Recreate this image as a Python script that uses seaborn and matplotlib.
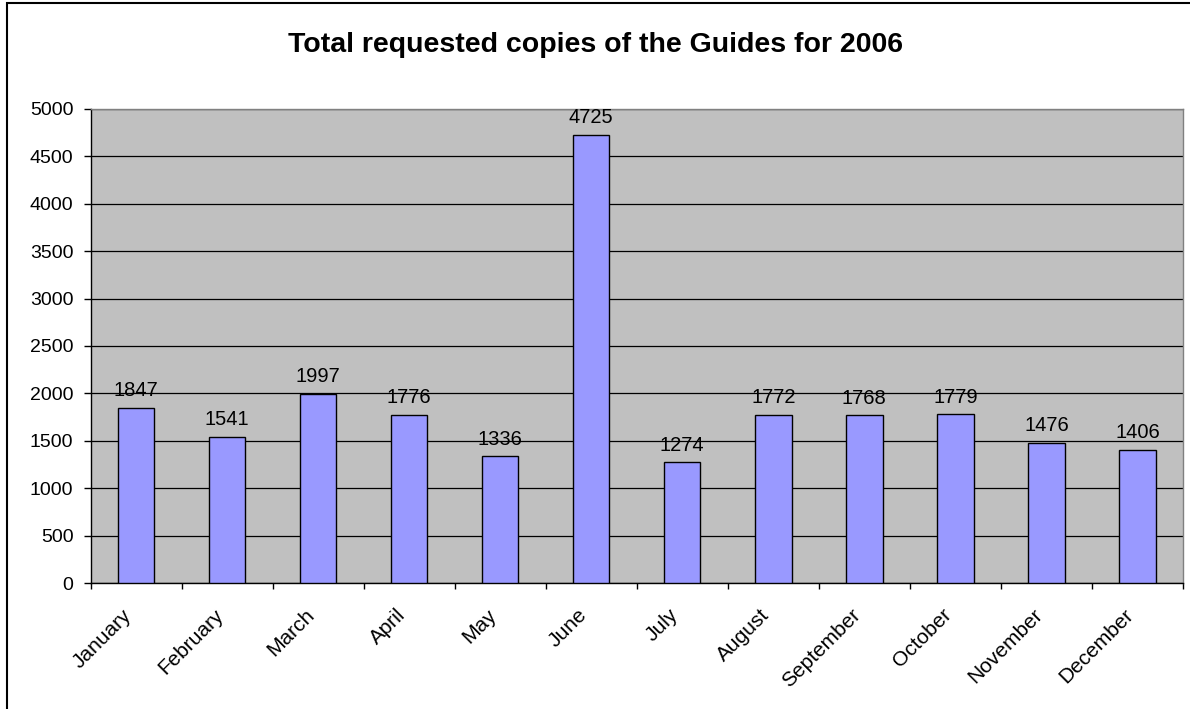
import matplotlib
matplotlib.use("Agg")
import matplotlib.pyplot as plt
import matplotlib.transforms as mtransforms
import seaborn as sns
import pandas as pd

# datos
meses = ["January", "February", "March", "April", "May", "June",
         "July", "August", "September", "October", "November", "December"]
copias = [1847, 1541, 1997, 1776, 1336, 4725, 1274, 1772, 1768, 1779, 1476, 1406]
titulo = "Total requested copies of the Guides for 2006"

df = pd.DataFrame({"mes": meses, "copias": copias})

sns.set_style("white")
plt.rcParams["font.family"] = ["Liberation Sans", "DejaVu Sans"]
plt.rcParams["text.color"] = "black"
plt.rcParams["xtick.color"] = "black"
plt.rcParams["ytick.color"] = "black"

fig = plt.figure(figsize=(11.9, 7.09), dpi=100)
ax = fig.add_axes([0.0761, 0.1777, 0.918, 0.6686])
ax.set_facecolor("#C0C0C0")

sns.barplot(data=df, x="mes", y="copias", color="#9999FF", edgecolor="black",
            linewidth=1.0, width=0.40, saturation=1, ax=ax, zorder=3)

ax.set_ylim(0, 5000)
ax.set_yticks(range(0, 5001, 500))
ax.set_xlim(-0.5, 11.5)
ax.yaxis.grid(True, color="black", linewidth=0.9, zorder=0)
ax.set_axisbelow(True)
ax.set_xlabel("")
ax.set_ylabel("")

# etiquetas de valor sobre cada barra
for i, v in enumerate(copias):
    ax.annotate(str(v), xy=(i, v), xytext=(0, 8.4), textcoords="offset points",
                ha="center", va="baseline", fontsize=14.5, color="black")

# marcas del eje x entre categorias
ax.set_xticks([i - 0.5 for i in range(13)], minor=True)
ax.tick_params(axis="x", which="minor", length=4.5, width=1, bottom=True, direction="out")
ax.tick_params(axis="x", which="major", length=0, pad=21, labelsize=15)
ax.tick_params(axis="y", labelsize=14, length=4.8, width=1, direction="out", left=True, pad=7.5)
desplaza = mtransforms.ScaledTranslation(-0.07, 0, fig.dpi_scale_trans)
for lab in ax.get_xticklabels():
    lab.set_rotation(45)
    lab.set_ha("right")
    lab.set_va("center")
    lab.set_rotation_mode("anchor")
    lab.set_transform(lab.get_transform() + desplaza)

for s in ax.spines.values():
    s.set_color("#808080")
    s.set_linewidth(1.0)
ax.spines["left"].set_color("black")
ax.spines["bottom"].set_color("black")

fig.text(0.5, 1 - 52 / 709, titulo, ha="center", va="baseline", fontsize=20.5, fontweight="bold")

# marco exterior (lados derecho e inferior quedan fuera de la imagen)
fig.patches.append(plt.Rectangle((7 / 1190, -0.05), 1.1, 1 - 3 / 709 + 0.05,
                                 transform=fig.transFigure, fill=False,
                                 edgecolor="black", linewidth=1.5))

fig.savefig("out.png", dpi=100)
